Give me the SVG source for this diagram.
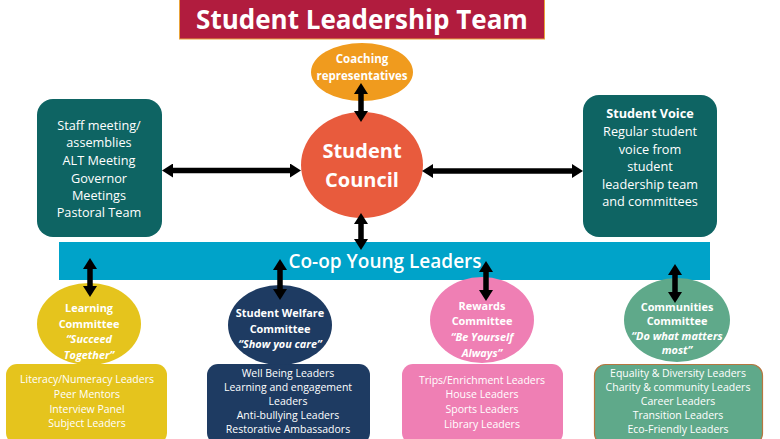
<svg xmlns="http://www.w3.org/2000/svg" width="780" height="439" viewBox="0 0 780 439">
<defs>
<marker id="ah" viewBox="0 0 11 14" markerWidth="11" markerHeight="14" refX="0.5" refY="7" markerUnits="userSpaceOnUse" orient="auto-start-reverse">
<path d="M0,0 L11,7 L0,14 z" fill="#000"/>
</marker>
</defs>
<style>
text{font-family:"Open Sans","Liberation Sans",sans-serif;fill:#fff;text-anchor:middle}
.b{font-weight:700}
.i{font-style:italic;font-weight:700}
.big{font-size:12.7px}
.el{font-size:10.9px;font-weight:700}
.bx{font-size:10.5px}
.arrow{stroke:#000;stroke-width:5.5;fill:none;marker-start:url(#ah);marker-end:url(#ah)}
</style>
<rect width="780" height="439" fill="#fff"/>

<g id="title">
<rect x="179.5" y="-1" width="365" height="40" fill="#B11C3E" stroke="#E8A33A" stroke-width="1"/>
<text x="362" y="29" class="b" style="font-size:26px">Student Leadership Team</text>
</g>

<g id="staff">
<rect x="37" y="99" width="125" height="138" rx="16" fill="#0E6463"/>
<text class="big" x="99" y="130">Staff meeting/</text>
<text class="big" x="99" y="147">assemblies</text>
<text class="big" x="99" y="165">ALT Meeting</text>
<text class="big" x="99" y="183">Governor</text>
<text class="big" x="99" y="200">Meetings</text>
<text class="big" x="99" y="217">Pastoral Team</text>
</g>

<g id="voice">
<rect x="583" y="95" width="134" height="142" rx="16" fill="#0E6463"/>
<text class="big b" x="650" y="118">Student Voice</text>
<text class="big" x="650" y="136">Regular student</text>
<text class="big" x="650" y="154">voice from</text>
<text class="big" x="650" y="171">student</text>
<text class="big" x="650" y="189">leadership team</text>
<text class="big" x="650" y="206">and committees</text>
</g>

<g id="coaching">
<ellipse cx="362" cy="72" rx="51" ry="29" fill="#F09B1E"/>
<text class="b" style="font-size:11.5px" x="362" y="63">Coaching</text>
<text class="b" style="font-size:11.5px" x="362" y="80">representatives</text>
</g>

<g id="council">
<ellipse cx="362" cy="165" rx="61" ry="53" fill="#E85B3D"/>
<text class="b" style="font-size:20px" x="362" y="158">Student</text>
<text class="b" style="font-size:20px" x="362" y="187">Council</text>
</g>

<g id="coop">
<rect x="59" y="242" width="651" height="38" fill="#00A3C9"/>
<text style="font-size:19px;font-weight:600" x="385" y="268">Co-op Young Leaders</text>
</g>

<g id="learning">
<rect x="6" y="364" width="161" height="80" rx="11" fill="#E5C41D"/>
<ellipse cx="89" cy="324" rx="52" ry="41" fill="#E5C41D"/>
<text class="el" x="89" y="312">Learning</text>
<text class="el" x="89" y="328">Committee</text>
<text class="el i" x="89" y="343">“Succeed</text>
<text class="el i" x="89" y="359">Together”</text>
<text class="bx" x="87" y="383">Literacy/Numeracy Leaders</text>
<text class="bx" x="87" y="398">Peer Mentors</text>
<text class="bx" x="87" y="413">Interview Panel</text>
<text class="bx" x="87" y="427">Subject Leaders</text>
</g>

<g id="welfare">
<rect x="207" y="364" width="163" height="80" rx="11" fill="#1E3B62"/>
<ellipse cx="280" cy="325" rx="52" ry="40" fill="#1E3B62"/>
<text class="el" x="280" y="317">Student Welfare</text>
<text class="el" x="280" y="333">Committee</text>
<text class="el i" x="280" y="348">“Show you care”</text>
<text class="bx" x="288" y="377">Well Being Leaders</text>
<text class="bx" x="288" y="391">Learning and engagement</text>
<text class="bx" x="288" y="405">Leaders</text>
<text class="bx" x="288" y="419">Anti-bullying Leaders</text>
<text class="bx" x="288" y="433">Restorative Ambassadors</text>
</g>

<g id="rewards">
<rect x="402" y="364" width="161" height="80" rx="11" fill="#EF7FB4"/>
<ellipse cx="482" cy="320" rx="52" ry="43" fill="#EF7FB4"/>
<text class="el" x="482" y="310">Rewards</text>
<text class="el" x="482" y="325">Committee</text>
<text class="el i" x="482" y="341">“Be Yourself</text>
<text class="el i" x="482" y="357">Always”</text>
<text class="bx" x="482" y="384">Trips/Enrichment Leaders</text>
<text class="bx" x="482" y="398">House Leaders</text>
<text class="bx" x="482" y="413">Sports Leaders</text>
<text class="bx" x="482" y="428">Library Leaders</text>
</g>

<g id="communities">
<rect x="594.5" y="364.5" width="168" height="80" rx="11" fill="#5FA98A" stroke="#B5763F" stroke-width="1.2"/>
<ellipse cx="677" cy="320" rx="53" ry="42" fill="#5FA98A"/>
<text class="el" x="677" y="311">Communities</text>
<text class="el" x="677" y="325">Committee</text>
<text class="el i" x="677" y="340">“Do what matters</text>
<text class="el i" x="677" y="354">most”</text>
<text class="bx" x="678" y="377">Equality &amp; Diversity Leaders</text>
<text class="bx" x="678" y="391">Charity &amp; community Leaders</text>
<text class="bx" x="678" y="405">Career Leaders</text>
<text class="bx" x="678" y="419">Transition Leaders</text>
<text class="bx" x="678" y="433">Eco-Friendly Leaders</text>
</g>

<g id="connectors">
<line class="arrow" x1="361" y1="93.5" x2="361" y2="111.5"/>
<line class="arrow" x1="361" y1="223.5" x2="361" y2="239.5"/>
<line class="arrow" x1="172.5" y1="170.5" x2="290.5" y2="170.5"/>
<line class="arrow" x1="432.5" y1="171" x2="572.5" y2="171"/>
<line class="arrow" x1="90" y1="268.5" x2="90" y2="286.5"/>
<line class="arrow" x1="280" y1="269.5" x2="280" y2="289.5"/>
<line class="arrow" x1="486" y1="271.5" x2="486" y2="290.5"/>
<line class="arrow" x1="675" y1="274.5" x2="675" y2="292.5"/>
</g>
</svg>
